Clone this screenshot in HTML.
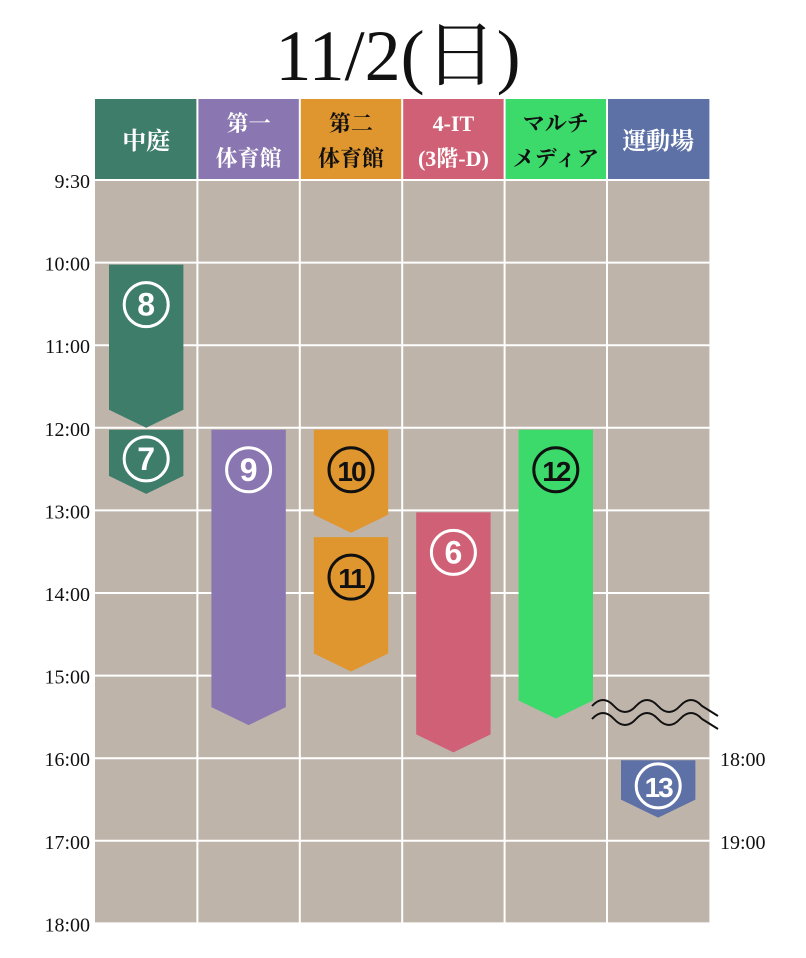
<!DOCTYPE html>
<html><head><meta charset="utf-8">
<style>
html,body{margin:0;padding:0;background:#fff;}
svg{display:block;}
text{font-family:"Liberation Serif","Noto Serif CJK SC",serif;}
text.num{font-family:"Liberation Sans","DejaVu Sans",sans-serif;}
</style></head>
<body>
<svg id="chart" width="806" height="958" viewBox="0 0 806 958" xmlns="http://www.w3.org/2000/svg">
<text x="398" y="80" text-anchor="middle" font-size="72" fill="#111">11/2(日)</text>
<g id="grid"></g><g id="events"></g><g id="labels"></g>
<path d="M592,706 q11,-12 22,0 t22,0 t22,0 t22,0 t22,0 l16,10" fill="none" stroke="#111" stroke-width="2"/>
<path d="M592,719 q11,-12 22,0 t22,0 t22,0 t22,0 t22,0 l16,10" fill="none" stroke="#111" stroke-width="2"/>
</svg>
<script>
const venues = [["中庭"],["第一","体育館"],["第二","体育館"],["4-IT","(3階-D)"],["マルチ","メディア"],["運動場"]];
const venueColors = ["#3f7d6b","#8a76b0","#e0962e","#d06075","#3cd96b","#5e71a6"];
const venueTextColors = ["#fff","#fff","#111","#fff","#111","#fff"];
const timeLabels = ["9:30","10:00","11:00","12:00","13:00","14:00","15:00","16:00","17:00","18:00"];
const sideLabels = ["18:00","19:00"];
const eventIds = ["8","7","9","10","11","6","12","13"];
const eventVenue = [0,0,1,2,2,3,4,5];
const eventStart = [10,12,12,12,13.3,13,12,16];
const eventEnd = [12,12.8,15.6,13.27,14.95,15.93,15.52,16.72];
const eventDark = [false,false,false,true,true,false,true,false];

const NS="http://www.w3.org/2000/svg";
const X0=95, COLW=102.4, HT=99, HB=180, ROW=82.6;
const xCol=i=>X0+i*COLW;
const yT=t=> t<10 ? HB+(t-9.5)*2*ROW : HB+ROW+(t-10)*ROW;
function mk(tag,attrs,parent){const e=document.createElementNS(NS,tag);for(const k in attrs)e.setAttribute(k,attrs[k]);parent.appendChild(e);return e;}
const grid=document.getElementById('grid'), evg=document.getElementById('events'), lab=document.getElementById('labels');
const yBottom=yT(18);
const bg=mk('rect',{x:X0,y:HB,width:COLW*6,height:yBottom-HB,fill:"#bfb4aa"},grid);


venues.forEach((v,i)=>{
  const h=mk('rect',{x:xCol(i),y:HT,width:COLW,height:HB-HT,fill:venueColors[i]},grid);
  
  
  const t=mk('text',{x:xCol(i)+COLW/2,"text-anchor":"middle","font-size":"22","font-weight":"bold",fill:venueTextColors[i]},grid);
  
  
  if(v.length===1){t.setAttribute('font-size','24');t.setAttribute('y',149);t.textContent=v[0];}
  else{v.forEach((s,j)=>{const ts=mk('tspan',{x:xCol(i)+COLW/2,y:j?166:131},t);ts.textContent=s;});}
});
for(let i=1;i<6;i++){const l=mk('line',{x1:xCol(i),x2:xCol(i),y1:HT,y2:yBottom,stroke:"#fff","stroke-width":2},grid);
  
  }
timeLabels.forEach((s,i)=>{
  const y=HB+i*ROW;
  const l=mk('line',{x1:X0,x2:X0+COLW*6,y1:y,y2:y,stroke:"#fff","stroke-width":2},grid);
  
  
  const t=mk('text',{x:90,y:y+8,"text-anchor":"end","font-size":"20",fill:"#111"},lab);
  
  
  t.textContent=s;
});
sideLabels.forEach((s,i)=>{
  const t=mk('text',{x:720,y:yT(16+i)+8,"font-size":"20",fill:"#111"},lab);
  
  
  t.textContent=s;
});
eventIds.forEach((id,i)=>{
  const c=eventVenue[i], x1=xCol(c)+14, x2=xCol(c)+COLW-14, top=yT(eventStart[i])+2, tip=yT(eventEnd[i]);
  const rb=tip-18, mx=(x1+x2)/2;
  const g=mk('g',{},evg);
  
  
  mk('path',{d:`M${x1},${top}H${x2}V${rb}L${mx},${tip}L${x1},${rb}Z`,fill:venueColors[c]},g);
  const cy=top+Math.min(40,(tip-top)/2-3);
  const col=eventDark[i]?"#111":"#fff";
  mk('circle',{cx:mx,cy:cy,r:22,fill:"none",stroke:col,"stroke-width":3},g);
  const t=mk('text',{class:"num",x:mx,y:cy+11,"text-anchor":"middle","font-size":id.length>1?"28":"32","font-weight":"bold",fill:col,"letter-spacing":id.length>1?"-2":"0"},g);
  
  
  t.textContent=id;
});
</script>
</body></html>
